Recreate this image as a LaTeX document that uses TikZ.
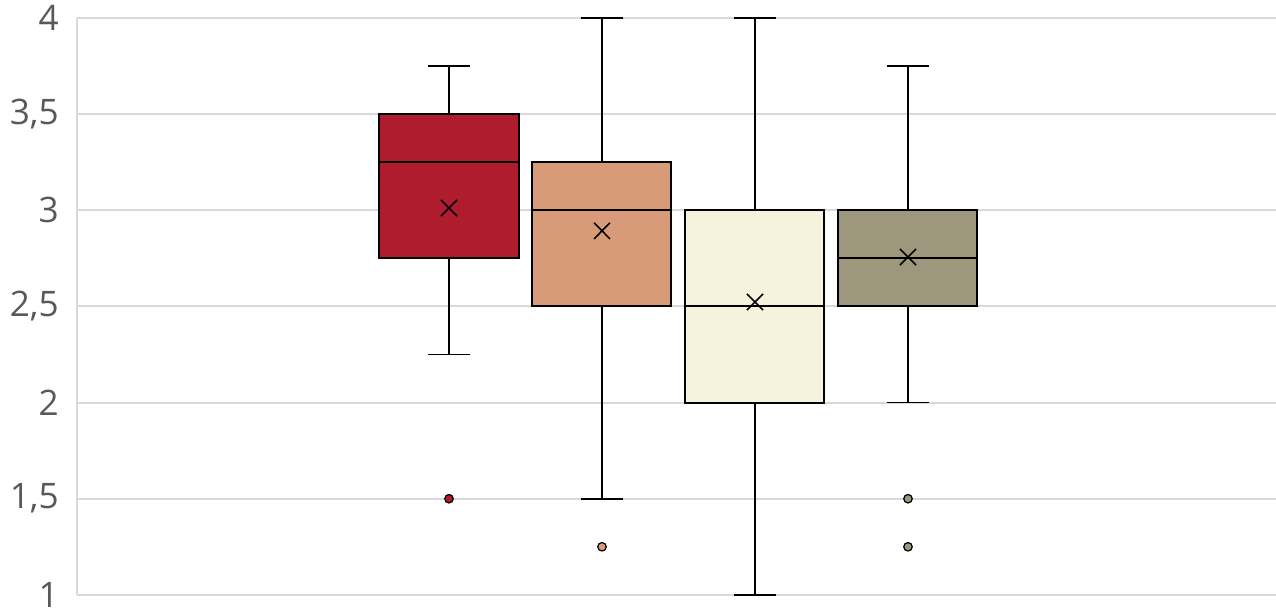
\documentclass[tikz,border=0pt]{standalone}
\usepackage{fontspec}
\setmainfont{Open Sans}
\usepackage{tikz}
\usepackage{xcolor}
\definecolor{gridgray}{HTML}{D9D9D9}
\definecolor{labelgray}{HTML}{595959}
\definecolor{boxred}{HTML}{AF1C2D}
\definecolor{boxsalmon}{HTML}{D79B79}
\definecolor{boxcream}{HTML}{F5F3DB}
\definecolor{boxolive}{HTML}{9C977D}

\begin{document}
\begin{tikzpicture}[x=0.02cm,y=3.8466cm,
  gridline/.style={gridgray,line width=1.1pt},
  boxbody/.style={draw=black,line width=1.1pt},
  whisker/.style={black,line width=0.9pt},
  meanmark/.style={black,line width=0.9pt},
  outlier/.style={draw=black,line width=0.7pt}]
  \useasboundingbox (0,0.9064) rectangle (1276,4.0936);
  % grid and axis
  \draw[gridline] (77,1) -- (77,4);
  \foreach \v/\t in {1/1,1.5/{1,5},2/2,2.5/{2,5},3/3,3.5/{3,5},4/4}{
    \draw[gridline] (77,\v) -- (1276,\v);
    \node[anchor=east,text=labelgray,font=\fontsize{20}{24}\selectfont,inner sep=0pt] (lab\v) at (59,\v) {\t};
  }
  % red
  \draw[whisker] (449,2.25) -- (449,3.75);
  \draw[whisker] (428,2.25) -- (470,2.25);
  \draw[whisker] (428,3.75) -- (470,3.75);
  \draw[boxbody,fill=boxred] (379,2.75) rectangle (519,3.5);
  \draw[boxbody] (379,3.25) -- (519,3.25);
  \draw[meanmark] (441,2.97) -- (457,3.054) (441,3.054) -- (457,2.97);
  \path[outlier,fill=boxred] (449,1.5) circle (0.085cm);
  % salmon
  \draw[whisker] (602,1.5) -- (602,4);
  \draw[whisker] (581,1.5) -- (623,1.5);
  \draw[whisker] (581,4) -- (623,4);
  \draw[boxbody,fill=boxsalmon] (532,2.5) rectangle (671,3.25);
  \draw[boxbody] (532,3) -- (671,3);
  \draw[meanmark] (594,2.851) -- (610,2.935) (594,2.935) -- (610,2.851);
  \path[outlier,fill=boxsalmon] (602,1.25) circle (0.085cm);
  % cream
  \draw[whisker] (755,1) -- (755,4);
  \draw[whisker] (734,1) -- (776,1);
  \draw[whisker] (734,4) -- (776,4);
  \draw[boxbody,fill=boxcream] (685,2) rectangle (824,3);
  \draw[boxbody] (685,2.5) -- (824,2.5);
  \draw[meanmark] (747,2.481) -- (763,2.565) (747,2.565) -- (763,2.481);
  % olive
  \draw[whisker] (908,2) -- (908,3.75);
  \draw[whisker] (887,2) -- (929,2);
  \draw[whisker] (887,3.75) -- (929,3.75);
  \draw[boxbody,fill=boxolive] (838,2.5) rectangle (977,3);
  \draw[boxbody] (838,2.75) -- (977,2.75);
  \draw[meanmark] (900,2.715) -- (916,2.799) (900,2.799) -- (916,2.715);
  \path[outlier,fill=boxolive] (908,1.5) circle (0.085cm);
  \path[outlier,fill=boxolive] (908,1.25) circle (0.085cm);
\end{tikzpicture}
\end{document}
